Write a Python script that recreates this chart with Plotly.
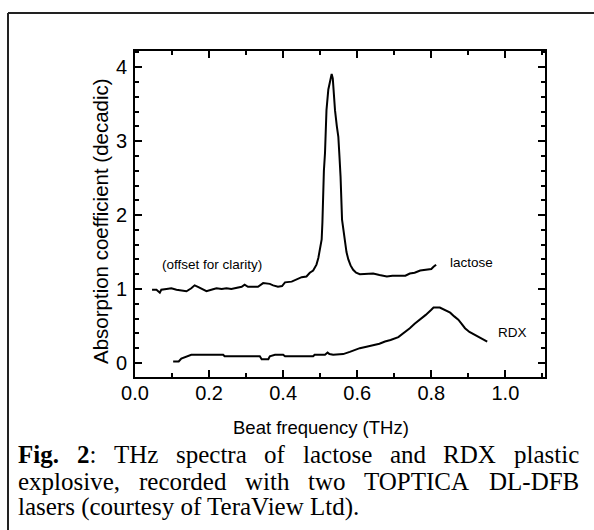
import plotly.graph_objects as go

# ---- spectra (frequency in THz, absorption coefficient, decadic) ----
lactose_freq = [0.046, 0.058, 0.067, 0.071, 0.085, 0.098, 0.112, 0.125, 0.139, 0.152,
                0.161, 0.170, 0.184, 0.193, 0.206, 0.220, 0.234, 0.247, 0.260, 0.274,
                0.288, 0.296, 0.305, 0.319, 0.332, 0.346, 0.364, 0.373, 0.386, 0.397,
                0.405, 0.423, 0.436, 0.450, 0.463, 0.472, 0.481, 0.490, 0.495, 0.499,
                0.504, 0.506, 0.508, 0.510, 0.513, 0.517, 0.522, 0.527, 0.531, 0.534,
                0.537, 0.540, 0.545, 0.549, 0.552, 0.555, 0.559, 0.563, 0.567, 0.571,
                0.576, 0.582, 0.589, 0.597, 0.607, 0.620, 0.643, 0.660, 0.680, 0.695,
                0.706, 0.720, 0.730, 0.742, 0.755, 0.770, 0.785, 0.800, 0.806, 0.813]
lactose_abs = [0.99, 0.99, 0.95, 0.99, 1.00, 1.01, 0.99, 0.98, 0.97, 1.01,
               1.05, 1.03, 1.00, 0.97, 0.99, 1.01, 1.00, 1.01, 1.00, 1.02,
               1.03, 1.06, 1.03, 1.03, 1.03, 1.08, 1.07, 1.05, 1.03, 1.04,
               1.09, 1.10, 1.13, 1.16, 1.17, 1.22, 1.25, 1.33, 1.42, 1.53,
               1.67, 1.90, 2.34, 2.60, 2.84, 3.42, 3.70, 3.85, 3.91, 3.85,
               3.60, 3.42, 3.20, 3.06, 2.80, 2.52, 1.94, 1.80, 1.67, 1.50,
               1.40, 1.32, 1.26, 1.22, 1.20, 1.20, 1.21, 1.19, 1.17, 1.18,
               1.18, 1.19, 1.18, 1.21, 1.22, 1.25, 1.26, 1.27, 1.30, 1.33]

rdx_freq = [0.103, 0.118, 0.125, 0.139, 0.152, 0.200, 0.238, 0.242, 0.300, 0.337,
            0.342, 0.360, 0.364, 0.378, 0.400, 0.405, 0.450, 0.481, 0.485, 0.513,
            0.520, 0.525, 0.535, 0.550, 0.562, 0.580, 0.607, 0.625, 0.643, 0.660,
            0.675, 0.690, 0.711, 0.725, 0.742, 0.755, 0.770, 0.785, 0.800, 0.806,
            0.823, 0.835, 0.851, 0.862, 0.873, 0.882, 0.891, 0.903, 0.914, 0.925,
            0.932, 0.942, 0.951]
rdx_abs = [0.02, 0.02, 0.06, 0.09, 0.11, 0.11, 0.11, 0.09, 0.09, 0.09,
           0.05, 0.05, 0.09, 0.11, 0.11, 0.09, 0.09, 0.09, 0.11, 0.11,
           0.14, 0.12, 0.11, 0.12, 0.12, 0.15, 0.20, 0.22, 0.24, 0.26,
           0.29, 0.31, 0.35, 0.40, 0.47, 0.53, 0.585, 0.65, 0.72, 0.75,
           0.75, 0.72, 0.68, 0.63, 0.585, 0.53, 0.47, 0.42, 0.39, 0.36,
           0.34, 0.32, 0.29]

x_ticks = [0.0, 0.2, 0.4, 0.6, 0.8, 1.0]
x_tick_text = ["0.0", "0.2", "0.4", "0.6", "0.8", "1.0"]
y_ticks = [0, 1, 2, 3, 4]
y_tick_text = ["0", "1", "2", "3", "4"]

caption_lines = [
    ["<b>Fig.</b>", "<b>2</b>:", "THz", "spectra", "of", "lactose", "and", "RDX", "plastic"],
    ["explosive,", "recorded", "with", "two", "TOPTICA", "DL-DFB"],
]
caption_last = "lasers (courtesy of TeraView Ltd)."

# ---- page geometry (pixels) ----
W, H = 594, 530
L, R, T, B = 135, 49, 51, 153
PW, PH = W - L - R, H - T - B

def px_x(px):
    return (px - L) / PW

def px_y(py):
    return (H - B - py) / PH

SANS = "Liberation Sans, Arial, sans-serif"
SERIF = "Liberation Serif, Times New Roman, serif"

fig = go.Figure()
fig.add_trace(go.Scatter(x=lactose_freq, y=lactose_abs, mode="lines",
                         line=dict(color="black", width=2), showlegend=False))
fig.add_trace(go.Scatter(x=rdx_freq, y=rdx_abs, mode="lines",
                         line=dict(color="black", width=2), showlegend=False))

axis_common = dict(
    showgrid=False, zeroline=False, showline=True, linewidth=2, linecolor="black",
    mirror="allticks", ticks="inside", ticklen=7, tickwidth=1.5, tickcolor="black",
    tickfont=dict(family=SANS, size=20, color="black"),
)
fig.update_xaxes(range=[0, 1.107], tickvals=x_ticks, ticktext=x_tick_text,
                 ticklabelstandoff=-3,
                 minor=dict(dtick=0.1, ticks="inside", ticklen=4, tickwidth=1.5,
                            tickcolor="black"),
                 **axis_common)
fig.update_yaxes(range=[-0.19, 4.22], tickvals=y_ticks, ticktext=y_tick_text,
                 ticklabelstandoff=2,
                 minor=dict(dtick=0.2, ticks="inside", ticklen=4, tickwidth=1.5,
                            tickcolor="black"),
                 **axis_common)

ann = []
# in-plot labels
for txt, fx, fy in [("(offset for clarity)", 0.207, 1.33),
                    ("lactose", 0.909, 1.355),
                    ("RDX", 1.018, 0.41)]:
    ann.append(dict(x=fx, y=fy, xref="x", yref="y", text=txt, showarrow=False,
                    xanchor="center", yanchor="middle",
                    font=dict(family=SANS, size=13.5, color="black")))

# axis titles
ann.append(dict(x=px_x(321), y=px_y(427), xref="paper", yref="paper",
                text="Beat frequency (THz)", showarrow=False,
                xanchor="center", yanchor="middle",
                font=dict(family=SANS, size=18.5, color="black")))
ann.append(dict(x=px_x(100), y=px_y(221), xref="paper", yref="paper",
                text="Absorption coefficient (decadic)", showarrow=False, textangle=-90,
                xanchor="center", yanchor="middle",
                font=dict(family=SANS, size=20.5, color="black")))

# caption, justified between the page margins
TIMES = {' ': 250, '(': 333, ')': 333, ',': 250, '-': 333, '.': 250, ':': 278, '2': 500,
         'A': 722, 'B': 667, 'C': 667, 'D': 722, 'F': 556, 'H': 722, 'I': 333, 'L': 611,
         'O': 722, 'P': 556, 'R': 667, 'T': 611, 'V': 722, 'X': 722,
         'a': 444, 'c': 444, 'd': 500, 'e': 444, 'f': 333, 'g': 500, 'h': 500, 'i': 278,
         'l': 278, 'n': 500, 'o': 500, 'p': 500, 'r': 333, 's': 389, 't': 278, 'u': 500,
         'v': 500, 'w': 722, 'x': 500, 'y': 500, 'z': 444}
TIMES_BOLD = {'F': 611, 'i': 278, 'g': 500, '.': 250, '2': 500}

CAP_SIZE = 25
CAP_X0, CAP_X1 = 17, 578
cap_rows = [454, 481, 507]

def word_width(word):
    total = 0
    bold = False
    i = 0
    while i < len(word):
        if word.startswith("<b>", i):
            bold = True
            i += 3
            continue
        if word.startswith("</b>", i):
            bold = False
            i += 4
            continue
        ch = word[i]
        table = TIMES_BOLD if bold and ch in TIMES_BOLD else TIMES
        total += table.get(ch, 500)
        i += 1
    return total * CAP_SIZE / 1000.0

for row, words in zip(cap_rows, caption_lines):
    widths = [word_width(w) for w in words]
    gap = (CAP_X1 - CAP_X0 - sum(widths)) / (len(words) - 1)
    pos = CAP_X0
    for w, wd in zip(words, widths):
        ann.append(dict(x=px_x(pos), y=px_y(row), xref="paper", yref="paper",
                        text=w, showarrow=False, xanchor="left", yanchor="middle",
                        borderpad=0,
                        font=dict(family=SERIF, size=CAP_SIZE, color="black")))
        pos += wd + gap
ann.append(dict(x=px_x(CAP_X0), y=px_y(cap_rows[2]), xref="paper", yref="paper",
                text=caption_last, showarrow=False, xanchor="left", yanchor="middle",
                borderpad=0, font=dict(family=SERIF, size=CAP_SIZE, color="black")))

# frame around the figure panel
shapes = [
    dict(type="line", xref="paper", yref="paper", x0=px_x(8), y0=px_y(13),
         x1=px_x(W + 2), y1=px_y(13), line=dict(color="#222", width=2)),
    dict(type="line", xref="paper", yref="paper", x0=px_x(8), y0=px_y(13),
         x1=px_x(8), y1=px_y(H + 2), line=dict(color="#222", width=2)),
]

fig.update_layout(
    width=W, height=H, margin=dict(l=L, r=R, t=T, b=B, pad=0),
    paper_bgcolor="white", plot_bgcolor="white",
    annotations=ann, shapes=shapes, showlegend=False,
)

fig.write_html("out.html")
